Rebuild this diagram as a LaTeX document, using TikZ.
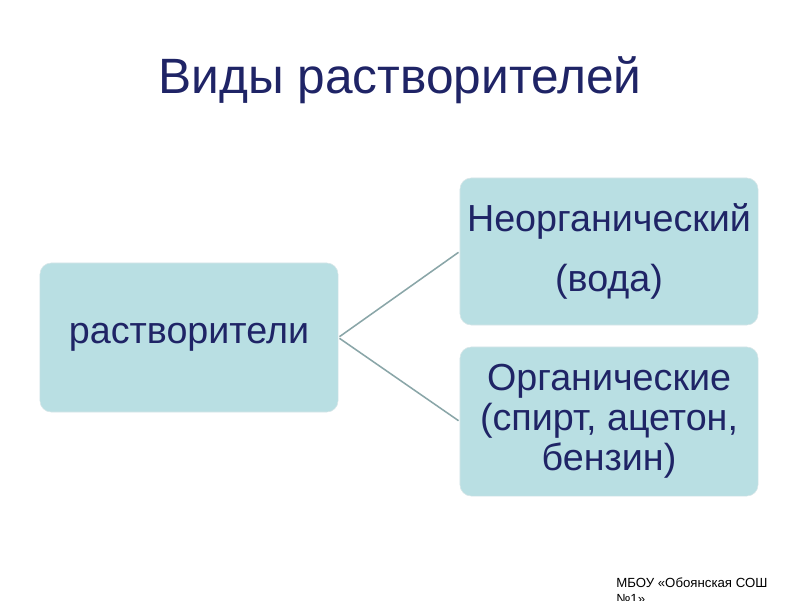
\documentclass[tikz,border=0pt]{standalone}
\usepackage{fontspec}
\setmainfont{Liberation Sans}
\usetikzlibrary{positioning}
\definecolor{mnavy}{HTML}{1F2466}
\definecolor{mteal}{HTML}{B9DFE3}
\definecolor{medge}{HTML}{D8E6E8}
\definecolor{mline}{HTML}{8AA6A8}
\tikzset{
  tbox/.style={draw=medge, fill=mteal, rounded corners=8pt, text=mnavy,
               minimum width=7.45cm, inner sep=2pt, align=center,
               font=\fontsize{26.8}{28.5}\selectfont},
  link/.style={line width=1.1pt, mline, shorten <=1pt, shorten >=1pt},
}
\begin{document}
\begin{tikzpicture}[x=0.025cm, y=-0.025cm]
  \useasboundingbox (0,0) rectangle (800,600);
  \node[mnavy, font=\fontsize{35.3}{40}\selectfont] (title) at (400,80) {Виды растворителей};
  \node[tbox, minimum height=3.725cm] (solv) at (189,337.5) {растворители};
  \node[tbox, minimum height=3.675cm] (inorg) at (609,251.5) {Неорганический\\[14pt](вода)};
  \node[tbox, minimum height=3.725cm] (org) at (609,421.5) {Органические\\(спирт, ацетон,\\бензин)};
  \draw[link] (solv.east) -- (inorg.west);
  \draw[link] (solv.east) -- (org.west);
  \node[anchor=north west, align=left, inner sep=0pt,
        font=\fontsize{9.4}{11}\selectfont] (school) at (616,578)
    {МБОУ «Обоянская СОШ\\№1»};
\end{tikzpicture}
\end{document}
